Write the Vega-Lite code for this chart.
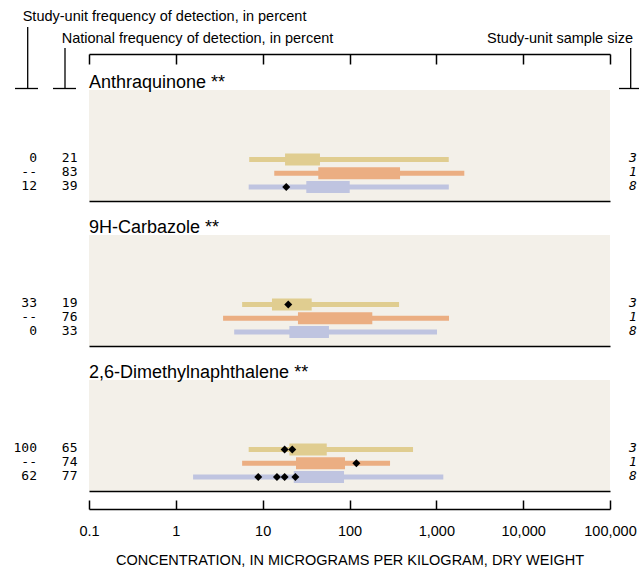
{
  "$schema": "https://vega.github.io/schema/vega-lite/v6.json",
  "autosize": {"type": "pad"},
  "padding": 0,
  "background": "white",
  "bounds": "flush",
  "spacing": 34,
  "config": {"view": {"stroke": null}, "axis": {"grid": false}},
  "datasets": {
    "boxes": [
      {"compound": "Anthraquinone", "group": "Group 1", "min": 7.0, "q1": 18.1, "q3": 45.7, "max": 1390, "study": "0", "national": "21", "n": "3"},
      {"compound": "Anthraquinone", "group": "Group 2", "min": 13.6, "q1": 43.7, "q3": 382, "max": 2100, "study": "--", "national": "83", "n": "1"},
      {"compound": "Anthraquinone", "group": "Group 3", "min": 6.9, "q1": 31.8, "q3": 100.5, "max": 1392, "study": "12", "national": "39", "n": "8"},
      {"compound": "9H-Carbazole", "group": "Group 1", "min": 5.8, "q1": 12.8, "q3": 36.7, "max": 372, "study": "33", "national": "19", "n": "3"},
      {"compound": "9H-Carbazole", "group": "Group 2", "min": 3.5, "q1": 25.5, "q3": 183, "max": 1400, "study": "--", "national": "76", "n": "1"},
      {"compound": "9H-Carbazole", "group": "Group 3", "min": 4.7, "q1": 20.3, "q3": 58, "max": 1018, "study": "0", "national": "33", "n": "8"},
      {"compound": "2,6-Dimethylnaphthalene", "group": "Group 1", "min": 6.9, "q1": 20.3, "q3": 54.7, "max": 539, "study": "100", "national": "65", "n": "3"},
      {"compound": "2,6-Dimethylnaphthalene", "group": "Group 2", "min": 5.8, "q1": 24.2, "q3": 88.8, "max": 293, "study": "--", "national": "74", "n": "1"},
      {"compound": "2,6-Dimethylnaphthalene", "group": "Group 3", "min": 1.58, "q1": 22.8, "q3": 86.5, "max": 1203, "study": "62", "national": "77", "n": "8"}
    ],
    "points": [
      {"compound": "Anthraquinone", "group": "Group 3", "value": 18.7},
      {"compound": "9H-Carbazole", "group": "Group 1", "value": 19.7},
      {"compound": "2,6-Dimethylnaphthalene", "group": "Group 1", "value": 17.9},
      {"compound": "2,6-Dimethylnaphthalene", "group": "Group 1", "value": 21.9},
      {"compound": "2,6-Dimethylnaphthalene", "group": "Group 2", "value": 120},
      {"compound": "2,6-Dimethylnaphthalene", "group": "Group 3", "value": 8.9},
      {"compound": "2,6-Dimethylnaphthalene", "group": "Group 3", "value": 14.6},
      {"compound": "2,6-Dimethylnaphthalene", "group": "Group 3", "value": 17.9},
      {"compound": "2,6-Dimethylnaphthalene", "group": "Group 3", "value": 23.8}
    ]
  },
  "vconcat": [
    {
      "width": 521,
      "height": 32,
      "data": {"values": [{}]},
      "layer": [
        {
          "mark": {"type": "rule", "strokeOpacity": 0, "strokeWidth": 0.01},
          "encoding": {
            "x": {"datum": 0.009442, "type": "quantitative", "scale": {"type": "log", "domain": [0.1, 100000], "nice": false},
              "axis": {"orient": "bottom", "offset": -2, "values": [0.1, 1, 10, 100, 1000, 10000, 100000], "labels": false, "title": null, "domainColor": "black", "domainWidth": 1.5, "tickColor": "black", "tickWidth": 1.5, "tickSize": 10, "grid": false}},
            "x2": {"datum": 215800},
            "y": {"datum": 1.75, "type": "quantitative", "scale": {"domain": [0, 1], "nice": false, "zero": false}, "axis": null}
          }
        },
        {"mark": {"type": "rule", "color": "black", "strokeWidth": 1.3}, "encoding": {"x": {"datum": 0.01968}, "y": {"datum": 0.90625}, "y2": {"datum": -1.0156}}},
        {"mark": {"type": "rule", "color": "black", "strokeWidth": 1.3}, "encoding": {"x": {"datum": 0.01406}, "x2": {"datum": 0.02588}, "y": {"datum": -1.0156}}},
        {"mark": {"type": "rule", "color": "black", "strokeWidth": 1.3}, "encoding": {"x": {"datum": 0.05292}, "y": {"datum": 0.25}, "y2": {"datum": -1.0156}}},
        {"mark": {"type": "rule", "color": "black", "strokeWidth": 1.3}, "encoding": {"x": {"datum": 0.03849}, "x2": {"datum": 0.07086}, "y": {"datum": -1.0156}}},
        {"mark": {"type": "rule", "color": "black", "strokeWidth": 1.3}, "encoding": {"x": {"datum": 173100}, "y": {"datum": 0.25}, "y2": {"datum": -1.0156}}},
        {"mark": {"type": "rule", "color": "black", "strokeWidth": 1.3}, "encoding": {"x": {"datum": 126900}, "x2": {"datum": 215800}, "y": {"datum": -1.0156}}},
        {"mark": {"type": "text", "align": "left", "baseline": "middle", "font": "Liberation Sans", "fontSize": 14.5, "color": "black"},
          "encoding": {"x": {"datum": 0.01723}, "y": {"datum": 1.21875}, "text": {"value": "Study-unit frequency of detection, in percent"}}},
        {"mark": {"type": "text", "align": "left", "baseline": "middle", "font": "Liberation Sans", "fontSize": 14.5, "color": "black"},
          "encoding": {"x": {"datum": 0.04849}, "y": {"datum": 0.53125}, "text": {"value": "National frequency of detection, in percent"}}},
        {"mark": {"type": "text", "align": "right", "baseline": "middle", "font": "Liberation Sans", "fontSize": 14.5, "color": "black"},
          "encoding": {"x": {"datum": 184000}, "y": {"datum": 0.53125}, "text": {"value": "Study-unit sample size"}}}
      ]
    },
    {
      "width": 521, "height": 111,
      "view": {"fill": "#f3f0e9", "stroke": null},
      "title": {"text": "Anthraquinone  **", "anchor": "start", "frame": "group", "offset": 1, "dy": 17, "fontSize": 18, "fontWeight": "normal", "font": "Liberation Sans", "color": "black", "baseline": "alphabetic"},
      "layer": [
        {"data": {"name": "boxes"}, "transform": [{"filter": "datum.compound == 'Anthraquinone'"}],
          "mark": {"type": "bar", "height": 5},
          "encoding": {
            "x": {"field": "min", "type": "quantitative", "scale": {"type": "log", "domain": [0.1, 100000], "nice": false}, "axis": {"orient": "bottom", "domainColor": "black", "domainWidth": 1.5, "ticks": false, "labels": false, "title": null, "grid": false}},
            "x2": {"field": "max"},
            "y": {"field": "group", "type": "nominal", "scale": {"type": "point", "domain": ["Group 1", "Group 2", "Group 3"], "range": [69.4, 97.1], "padding": 0}, "axis": null},
            "color": {"field": "group", "type": "nominal", "scale": {"domain": ["Group 1", "Group 2", "Group 3"], "range": ["#e0cd90", "#ebae82", "#bfc4e0"]}, "legend": null}
          }},
        {"data": {"name": "boxes"}, "transform": [{"filter": "datum.compound == 'Anthraquinone'"}],
          "mark": {"type": "bar", "height": 12},
          "encoding": {"x": {"field": "q1", "type": "quantitative"}, "x2": {"field": "q3"}, "y": {"field": "group", "type": "nominal"}, "color": {"field": "group", "type": "nominal", "legend": null}}},
        {"data": {"name": "points"}, "transform": [{"filter": "datum.compound == 'Anthraquinone'"}],
          "mark": {"type": "point", "shape": "diamond", "filled": true, "color": "black", "opacity": 1, "size": 64},
          "encoding": {"x": {"field": "value", "type": "quantitative"}, "y": {"field": "group", "type": "nominal"}}},
        {"data": {"name": "boxes"}, "transform": [{"filter": "datum.compound == 'Anthraquinone'"}],
          "mark": {"type": "text", "align": "right", "baseline": "middle", "dy": -1, "font": "DejaVu Sans Mono", "fontSize": 13, "color": "black"},
          "encoding": {"x": {"datum": 0.02518}, "y": {"field": "group", "type": "nominal"}, "text": {"field": "study"}}},
        {"data": {"name": "boxes"}, "transform": [{"filter": "datum.compound == 'Anthraquinone'"}],
          "mark": {"type": "text", "align": "right", "baseline": "middle", "dy": -1, "font": "DejaVu Sans Mono", "fontSize": 13, "color": "black"},
          "encoding": {"x": {"datum": 0.07373}, "y": {"field": "group", "type": "nominal"}, "text": {"field": "national"}}},
        {"data": {"name": "boxes"}, "transform": [{"filter": "datum.compound == 'Anthraquinone'"}],
          "mark": {"type": "text", "align": "left", "baseline": "middle", "dy": -1, "font": "DejaVu Sans Mono", "fontStyle": "italic", "fontSize": 13, "color": "black"},
          "encoding": {"x": {"datum": 165500}, "y": {"field": "group", "type": "nominal"}, "text": {"field": "n"}}}
      ]
    },
    {
      "width": 521, "height": 111,
      "view": {"fill": "#f3f0e9", "stroke": null},
      "title": {"text": "9H-Carbazole  **", "anchor": "start", "frame": "group", "offset": 1, "dy": 17, "fontSize": 18, "fontWeight": "normal", "font": "Liberation Sans", "color": "black", "baseline": "alphabetic"},
      "layer": [
        {"data": {"name": "boxes"}, "transform": [{"filter": "datum.compound == '9H-Carbazole'"}],
          "mark": {"type": "bar", "height": 5},
          "encoding": {
            "x": {"field": "min", "type": "quantitative", "scale": {"type": "log", "domain": [0.1, 100000], "nice": false}, "axis": {"orient": "bottom", "domainColor": "black", "domainWidth": 1.5, "ticks": false, "labels": false, "title": null, "grid": false}},
            "x2": {"field": "max"},
            "y": {"field": "group", "type": "nominal", "scale": {"type": "point", "domain": ["Group 1", "Group 2", "Group 3"], "range": [69.4, 97.1], "padding": 0}, "axis": null},
            "color": {"field": "group", "type": "nominal", "scale": {"domain": ["Group 1", "Group 2", "Group 3"], "range": ["#e0cd90", "#ebae82", "#bfc4e0"]}, "legend": null}
          }},
        {"data": {"name": "boxes"}, "transform": [{"filter": "datum.compound == '9H-Carbazole'"}],
          "mark": {"type": "bar", "height": 12},
          "encoding": {"x": {"field": "q1", "type": "quantitative"}, "x2": {"field": "q3"}, "y": {"field": "group", "type": "nominal"}, "color": {"field": "group", "type": "nominal", "legend": null}}},
        {"data": {"name": "points"}, "transform": [{"filter": "datum.compound == '9H-Carbazole'"}],
          "mark": {"type": "point", "shape": "diamond", "filled": true, "color": "black", "opacity": 1, "size": 64},
          "encoding": {"x": {"field": "value", "type": "quantitative"}, "y": {"field": "group", "type": "nominal"}}},
        {"data": {"name": "boxes"}, "transform": [{"filter": "datum.compound == '9H-Carbazole'"}],
          "mark": {"type": "text", "align": "right", "baseline": "middle", "dy": -1, "font": "DejaVu Sans Mono", "fontSize": 13, "color": "black"},
          "encoding": {"x": {"datum": 0.02518}, "y": {"field": "group", "type": "nominal"}, "text": {"field": "study"}}},
        {"data": {"name": "boxes"}, "transform": [{"filter": "datum.compound == '9H-Carbazole'"}],
          "mark": {"type": "text", "align": "right", "baseline": "middle", "dy": -1, "font": "DejaVu Sans Mono", "fontSize": 13, "color": "black"},
          "encoding": {"x": {"datum": 0.07373}, "y": {"field": "group", "type": "nominal"}, "text": {"field": "national"}}},
        {"data": {"name": "boxes"}, "transform": [{"filter": "datum.compound == '9H-Carbazole'"}],
          "mark": {"type": "text", "align": "left", "baseline": "middle", "dy": -1, "font": "DejaVu Sans Mono", "fontStyle": "italic", "fontSize": 13, "color": "black"},
          "encoding": {"x": {"datum": 165500}, "y": {"field": "group", "type": "nominal"}, "text": {"field": "n"}}}
      ]
    },
    {
      "width": 521, "height": 111,
      "view": {"fill": "#f3f0e9", "stroke": null},
      "title": {"text": "2,6-Dimethylnaphthalene  **", "anchor": "start", "frame": "group", "offset": 1, "dy": 17, "fontSize": 18, "fontWeight": "normal", "font": "Liberation Sans", "color": "black", "baseline": "alphabetic"},
      "layer": [
        {"data": {"name": "boxes"}, "transform": [{"filter": "datum.compound == '2,6-Dimethylnaphthalene'"}],
          "mark": {"type": "bar", "height": 5},
          "encoding": {
            "x": {"field": "min", "type": "quantitative", "scale": {"type": "log", "domain": [0.1, 100000], "nice": false}, "axis": {"orient": "bottom", "domainColor": "black", "domainWidth": 1.5, "ticks": false, "labels": false, "title": null, "grid": false}},
            "x2": {"field": "max"},
            "y": {"field": "group", "type": "nominal", "scale": {"type": "point", "domain": ["Group 1", "Group 2", "Group 3"], "range": [69.4, 97.1], "padding": 0}, "axis": null},
            "color": {"field": "group", "type": "nominal", "scale": {"domain": ["Group 1", "Group 2", "Group 3"], "range": ["#e0cd90", "#ebae82", "#bfc4e0"]}, "legend": null}
          }},
        {"data": {"name": "boxes"}, "transform": [{"filter": "datum.compound == '2,6-Dimethylnaphthalene'"}],
          "mark": {"type": "bar", "height": 12},
          "encoding": {"x": {"field": "q1", "type": "quantitative"}, "x2": {"field": "q3"}, "y": {"field": "group", "type": "nominal"}, "color": {"field": "group", "type": "nominal", "legend": null}}},
        {"data": {"name": "points"}, "transform": [{"filter": "datum.compound == '2,6-Dimethylnaphthalene'"}],
          "mark": {"type": "point", "shape": "diamond", "filled": true, "color": "black", "opacity": 1, "size": 64},
          "encoding": {"x": {"field": "value", "type": "quantitative"}, "y": {"field": "group", "type": "nominal"}}},
        {"data": {"name": "boxes"}, "transform": [{"filter": "datum.compound == '2,6-Dimethylnaphthalene'"}],
          "mark": {"type": "text", "align": "right", "baseline": "middle", "dy": -1, "font": "DejaVu Sans Mono", "fontSize": 13, "color": "black"},
          "encoding": {"x": {"datum": 0.02518}, "y": {"field": "group", "type": "nominal"}, "text": {"field": "study"}}},
        {"data": {"name": "boxes"}, "transform": [{"filter": "datum.compound == '2,6-Dimethylnaphthalene'"}],
          "mark": {"type": "text", "align": "right", "baseline": "middle", "dy": -1, "font": "DejaVu Sans Mono", "fontSize": 13, "color": "black"},
          "encoding": {"x": {"datum": 0.07373}, "y": {"field": "group", "type": "nominal"}, "text": {"field": "national"}}},
        {"data": {"name": "boxes"}, "transform": [{"filter": "datum.compound == '2,6-Dimethylnaphthalene'"}],
          "mark": {"type": "text", "align": "left", "baseline": "middle", "dy": -1, "font": "DejaVu Sans Mono", "fontStyle": "italic", "fontSize": 13, "color": "black"},
          "encoding": {"x": {"datum": 165500}, "y": {"field": "group", "type": "nominal"}, "text": {"field": "n"}}}
      ]
    },
    {
      "width": 521,
      "height": 1,
      "data": {"values": [{}]},
      "mark": {"type": "rule", "opacity": 0},
      "encoding": {
        "x": {"datum": 1, "type": "quantitative", "scale": {"type": "log", "domain": [0.1, 100000], "nice": false},
          "axis": {"orient": "bottom", "offset": -17, "values": [0.1, 1, 10, 100, 1000, 10000, 100000], "format": ",", "labelFlush": false, "labelOverlap": false,
            "labelFont": "Liberation Sans", "labelFontSize": 14.5, "labelColor": "black", "labelPadding": 24,
            "domainColor": "black", "domainWidth": 1.5, "tickColor": "black", "tickWidth": 1.5, "tickSize": -9, "grid": false,
            "title": "CONCENTRATION, IN MICROGRAMS PER KILOGRAM, DRY WEIGHT", "titleFont": "Liberation Sans", "titleFontSize": 14.5, "titleFontWeight": "normal", "titleColor": "black", "titlePadding": 16}}
      }
    }
  ]
}
